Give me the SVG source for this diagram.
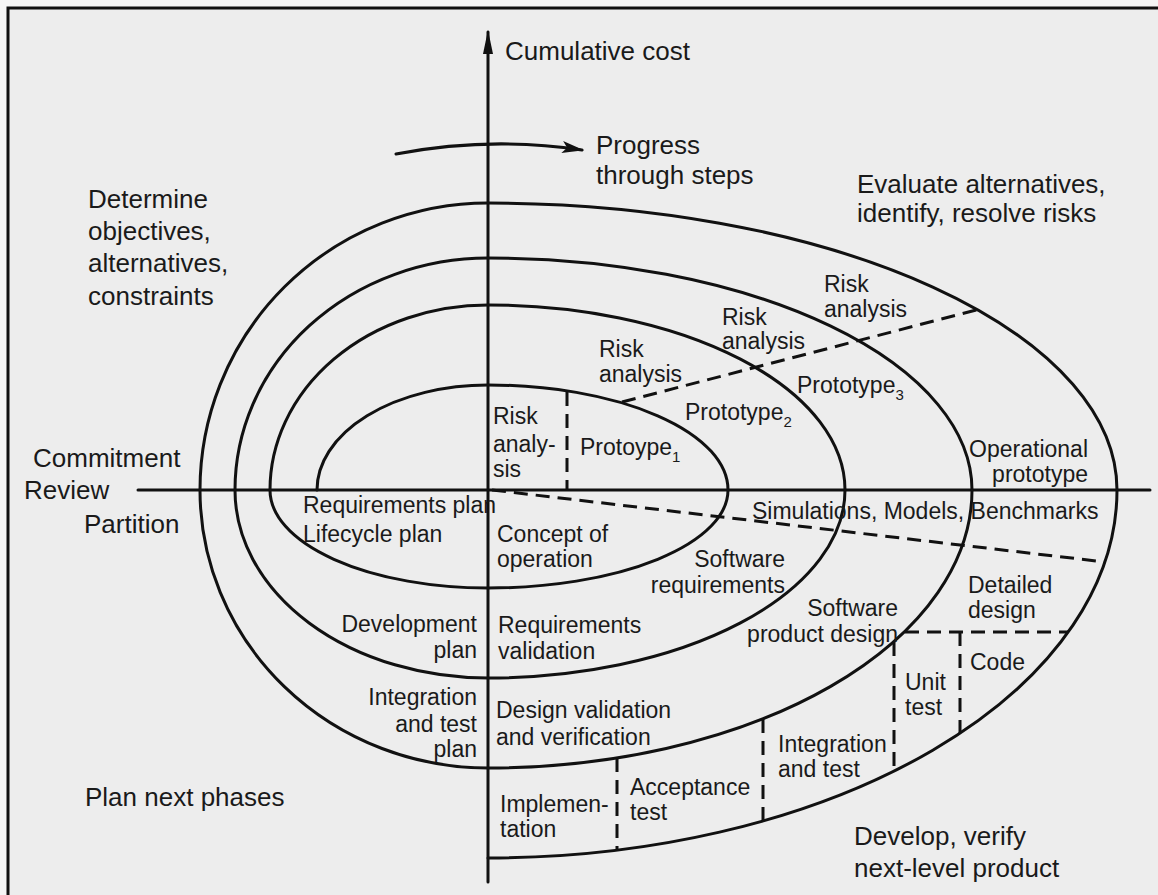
<svg xmlns="http://www.w3.org/2000/svg" width="1158" height="895" viewBox="0 0 1158 895">
<style>
.ln{fill:none;stroke:#111;stroke-width:3;stroke-linecap:round}
.dash{fill:none;stroke:#111;stroke-width:3;stroke-dasharray:14 8}
.big{font-family:"Liberation Sans",Arial,sans-serif;font-size:26px;fill:#1a1a1a}
.sm{font-family:"Liberation Sans",Arial,sans-serif;font-size:23px;fill:#1a1a1a}
.sub{font-size:15px}
</style>
<defs>
<marker id="axhead" viewBox="0 0 24 12" refX="22" refY="6" markerWidth="24" markerHeight="12" markerUnits="userSpaceOnUse" orient="auto">
<path d="M0,1 L24,6 L0,11 Z" fill="#111"/>
</marker>
<marker id="prhead" viewBox="0 0 22 14" refX="20" refY="7" markerWidth="22" markerHeight="14" markerUnits="userSpaceOnUse" orient="auto">
<path d="M0,1 L22,7 L0,13 L5,7 Z" fill="#111"/>
</marker>
</defs>
<rect x="0" y="0" width="1158" height="895" fill="#f6f6f6"/>
<rect x="8" y="8" width="1150" height="887" fill="#ededed"/>
<path d="M8,895 V8 H1158" fill="none" stroke="#111" stroke-width="3"/>

<g id="connectors">
<line id="axis-y" class="ln" x1="488" y1="882" x2="488" y2="32" marker-end="url(#axhead)"/>
<line id="axis-x" class="ln" x1="138" y1="490" x2="1150" y2="490"/>
<path id="progress-arrow" class="ln" d="M396,154 Q490,136 582,150" marker-end="url(#prhead)"/>
<path id="spiral" class="ln" d="M317,490 A171,105 0 0 1 488,385 A240,105 0 0 1 728,490 A240,98 0 0 1 488,588 A218,98 0 0 1 270,490 A218,185 0 0 1 488,305 A357,185 0 0 1 845,490 A357,188 0 0 1 488,678 A253,188 0 0 1 235,490 A253,232 0 0 1 488,258 A484,232 0 0 1 972,490 A484,278 0 0 1 488,768 A288,278 0 0 1 200,490 A288,287 0 0 1 488,203 A629,287 0 0 1 1117,490 A629,368 0 0 1 488,858"/>
<line class="dash" x1="567" y1="392" x2="567" y2="490"/>
<line class="dash" x1="622" y1="402" x2="980" y2="309"/>
<line class="dash" x1="492" y1="490" x2="1105" y2="562"/>
<line class="dash" x1="617" y1="758" x2="617" y2="850"/>
<line class="dash" x1="763" y1="719" x2="763" y2="821"/>
<line class="dash" x1="894" y1="642" x2="894" y2="771"/>
<line class="dash" x1="905" y1="632" x2="1068" y2="632"/>
<line class="dash" x1="960" y1="632" x2="960" y2="733"/>
</g>

<g id="n-cumulative"><text class="big" x="505" y="60">Cumulative cost</text></g>
<g id="n-progress"><text class="big" x="596" y="154">Progress</text><text class="big" x="596" y="184">through steps</text></g>
<g id="n-determine"><text class="big" x="88" y="208">Determine</text><text class="big" x="88" y="240">objectives,</text><text class="big" x="88" y="272">alternatives,</text><text class="big" x="88" y="305">constraints</text></g>
<g id="n-evaluate"><text class="big" x="857" y="193">Evaluate alternatives,</text><text class="big" x="857" y="222">identify, resolve risks</text></g>
<g id="n-commitment"><text class="big" x="33" y="467">Commitment</text><text class="big" x="24" y="499">Review</text><text class="big" x="84" y="533">Partition</text></g>
<g id="n-plan-next"><text class="big" x="85" y="806">Plan next phases</text></g>
<g id="n-develop"><text class="big" x="854" y="845">Develop, verify</text><text class="big" x="854" y="877">next-level product</text></g>

<g id="n-risk4"><text class="sm" x="824" y="292">Risk</text><text class="sm" x="824" y="317">analysis</text></g>
<g id="n-risk3"><text class="sm" x="722" y="325">Risk</text><text class="sm" x="722" y="349">analysis</text></g>
<g id="n-risk2"><text class="sm" x="599" y="357">Risk</text><text class="sm" x="599" y="382">analysis</text></g>
<g id="n-risk1"><text class="sm" x="493" y="424">Risk</text><text class="sm" x="493" y="452">analy-</text><text class="sm" x="493" y="477">sis</text></g>
<g id="n-proto1"><text class="sm" x="580" y="455">Protoype<tspan class="sub" dy="7">1</tspan></text></g>
<g id="n-proto2"><text class="sm" x="685" y="420">Prototype<tspan class="sub" dy="7">2</tspan></text></g>
<g id="n-proto3"><text class="sm" x="797" y="393">Prototype<tspan class="sub" dy="7">3</tspan></text></g>
<g id="n-opproto"><text class="sm" x="1088" y="457" text-anchor="end">Operational</text><text class="sm" x="1088" y="482" text-anchor="end">prototype</text></g>
<g id="n-reqplan"><text class="sm" x="303" y="513">Requirements plan</text><text class="sm" x="303" y="542">Lifecycle plan</text></g>
<g id="n-concept"><text class="sm" x="497" y="542">Concept of</text><text class="sm" x="497" y="567">operation</text></g>
<g id="n-sims"><text class="sm" x="752" y="519">Simulations, Models, Benchmarks</text></g>
<g id="n-swreq"><text class="sm" x="785" y="567" text-anchor="end">Software</text><text class="sm" x="785" y="593" text-anchor="end">requirements</text></g>
<g id="n-detailed"><text class="sm" x="968" y="593">Detailed</text><text class="sm" x="968" y="618">design</text></g>
<g id="n-swprod"><text class="sm" x="898" y="616" text-anchor="end">Software</text><text class="sm" x="898" y="642" text-anchor="end">product design</text></g>
<g id="n-devplan"><text class="sm" x="477" y="632" text-anchor="end">Development</text><text class="sm" x="477" y="658" text-anchor="end">plan</text></g>
<g id="n-reqval"><text class="sm" x="498" y="633">Requirements</text><text class="sm" x="498" y="659">validation</text></g>
<g id="n-code"><text class="sm" x="970" y="670">Code</text></g>
<g id="n-unit"><text class="sm" x="905" y="690">Unit</text><text class="sm" x="905" y="715">test</text></g>
<g id="n-itplan"><text class="sm" x="477" y="705" text-anchor="end">Integration</text><text class="sm" x="477" y="732" text-anchor="end">and test</text><text class="sm" x="477" y="757" text-anchor="end">plan</text></g>
<g id="n-designval"><text class="sm" x="496" y="718">Design validation</text><text class="sm" x="496" y="745">and verification</text></g>
<g id="n-inttest"><text class="sm" x="778" y="752">Integration</text><text class="sm" x="778" y="777">and test</text></g>
<g id="n-accept"><text class="sm" x="630" y="795">Acceptance</text><text class="sm" x="630" y="820">test</text></g>
<g id="n-impl"><text class="sm" x="500" y="812">Implemen-</text><text class="sm" x="500" y="837">tation</text></g>
</svg>
